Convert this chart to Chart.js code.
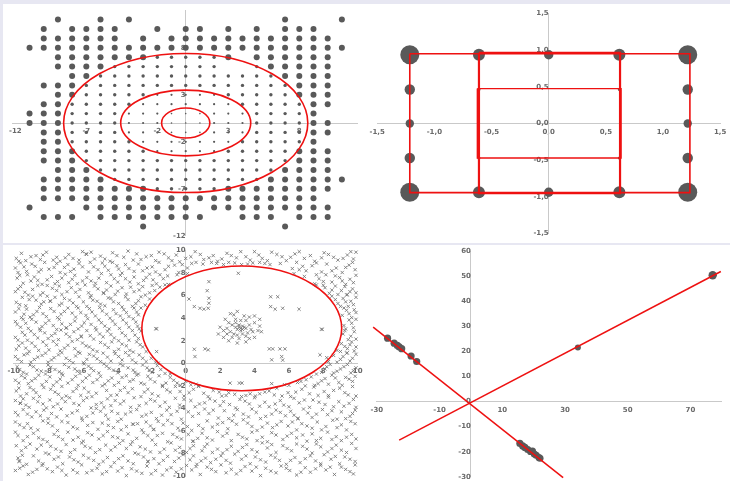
<!DOCTYPE html>
<html><head><meta charset="utf-8">
<script src="https://cdn.jsdelivr.net/npm/chart.js@4/dist/chart.umd.min.js"></script>
<style>
html,body{margin:0;padding:0;background:#e7e7f2;}
#wrap{position:relative;width:730px;height:481px;overflow:hidden;background:#e7e7f2;}
.band{position:absolute;background:#fff;}
canvas{position:absolute;}
</style></head><body>
<div id="wrap">
  <div class="band" style="left:3px;top:4px;width:727px;height:239px"></div>
  <div class="band" style="left:3px;top:245px;width:727px;height:236px"></div>
  <canvas id="c1" width="362" height="239" style="left:3px;top:4px"></canvas>
  <canvas id="c2" width="365" height="239" style="left:365px;top:4px"></canvas>
  <canvas id="c3" width="362" height="236" style="left:3px;top:245px"></canvas>
  <canvas id="c4" width="365" height="236" style="left:365px;top:245px"></canvas>
</div>
<script>
// ---------- panel 1: integer grid of dots, sized by ring ----------
const gridXs = [-11,-10,-9,-8,-7,-6,-5,-4,-3,-2,-1,0,1,2,3,4,5,6,7,8,9,10,11];
const gridYs = [11,10,9,8,7,6,5,4,3,2,1,0,-1,-2,-3,-4,-5,-6,-7,-8,-9,-10,-11];
// one string per row (top to bottom), one char per column: '.' = no dot, 1..4 = size class
const gridRows = [
  "..4..4.4..........4...4",
  ".4.4444..4.44.4.4.444..",
  ".444444.4.444444444444.",
  "44444444444444444444444",
  "..4444444333334.444444.",
  "..444433333333..344444.",
  "...4433333333333334444.",
  ".444333333333333333444.",
  "..44333332222233333444.",
  ".443333322222223333344.",
  "444333322211122233334..",
  "4443333222111222333344.",
  ".443333222111222333344.",
  ".44333332222222333334..",
  ".444333332222233333444.",
  ".444333333333333333444.",
  "..44433333333333334444.",
  ".4444433333333333444444",
  ".444444443333344444444.",
  ".44444444444444444444..",
  "4...44444444.444444444.",
  ".444.44444444..444.444.",
  "........4.........4...."
];
const sizeClassRadius = {"1": 0.8, "2": 1.1, "3": 1.7, "4": 3.0};
const ringCx = [0, 0, 0];
const ringCy = [0, 0, 0];
const ringRx = [1.7, 4.58, 8.6];
const ringRy = [1.6, 3.5, 7.4];
const p1TicksX = [-12, -7, -2, 3, 8];
const p1TicksY = [-12, -7, -2, 3, 8];

// ---------- panel 2: 5x5 frame of bubbles and three rectangles ----------
const frameX = [-1.215,-0.61,0,0.618,1.216, -1.215,1.216, -1.215,1.216, -1.215,1.216, -1.215,-0.61,0,0.618,1.216, -0.61,0.618,-0.61,0.618];
const frameY = [0.937,0.937,0.937,0.937,0.937, 0.463,0.463, 0,0, -0.47,-0.47, -0.937,-0.937,-0.937,-0.937,-0.937, 0.463,0.463,-0.47,-0.47];
const frameR = [9.5,6,4.7,6,9.5, 5.2,5.2, 4.2,4.2, 5.2,5.2, 9.5,6,4.7,6,9.5, 1.5,1.5,1.5,1.5];
const rectOuter = {x: [-1.215, 1.235, 1.235, -1.215, -1.215], y: [0.951, 0.951, -0.943, -0.943, 0.951]};
const rectTall  = {x: [-0.61, 0.624, 0.624, -0.61, -0.61],     y: [0.964, 0.964, -0.951, -0.951, 0.964]};
const rectInner = {x: [-0.624, 0.633, 0.633, -0.624, -0.624],   y: [0.476, 0.476, -0.471, -0.471, 0.476]};
const p2Ticks = [-1.5, -1, -0.5, 0, 0.5, 1, 1.5];

// ---------- panel 3: scattered crosses, sparse inside the ellipse ----------
const fieldPoints = [
  // 9 .. 10
  [-9.85,9.3],[-9.55,9.75],[-9.3,9.1],[-8.7,9.55],[-8.45,9.2],[-8.1,9.85],[-7.5,9.4],[-7.3,9.05],[-6.8,9.65],[-6.55,9.3],
  [-6.0,9.9],[-5.8,9.7],[-5.76,9.66],[-5.3,9.25],[-4.95,9.5],[-4.4,9.05],[-4.25,9.8],[-3.6,9.4],[-3.05,9.15],[-2.85,9.7],
  [-2.3,9.45],[-1.75,9.1],[-1.55,9.85],[-1.0,9.35],[-0.55,9.6],[-0.35,9.0],[0.3,9.45],[0.55,9.9],[1.05,9.2],[1.6,9.55],
  [1.85,9.05],[2.4,9.75],[2.95,9.35],[3.2,9.9],[3.75,9.15],[4.25,9.6],[4.45,9.3],[5.0,9.85],[5.6,9.45],[5.85,9.1],
  [6.35,9.7],[6.9,9.3],[7.25,9.55],[7.5,9.05],[8.05,9.8],[8.6,9.4],[8.85,9.15],[9.4,9.6],[9.75,9.25],[9.9,9.85],
  // 8 .. 9
  [-9.9,8.45],[-9.6,8.9],[-9.25,8.15],[-8.75,8.6],[-8.4,8.3],[-8.2,8.95],[-7.65,8.5],[-7.3,8.05],[-6.85,8.75],[-6.5,8.35],
  [-6.2,8.85],[-5.65,8.1],[-5.35,8.55],[-4.85,8.9],[-4.5,8.25],[-4.0,8.65],[-3.7,8.0],[-3.3,8.4],[-2.75,8.8],[-2.5,8.2],
  [-1.95,8.55],[-1.55,8.95],[-1.2,8.3],[-0.65,8.7],[-0.4,8.05],[0.1,8.45],[0.35,8.85],[1.0,8.8],[1.5,8.95],[2.2,8.75],
  [2.85,8.9],[3.6,8.8],[4.3,8.95],[4.9,8.75],[5.5,8.85],[6.2,8.4],[6.45,8.95],[7.0,8.2],[7.35,8.65],[7.9,8.1],
  [8.2,8.8],[8.75,8.45],[9.1,8.05],[9.5,8.7],[9.85,8.3],
  // 7 .. 8
  [-9.8,7.55],[-9.45,7.1],[-9.2,7.85],[-8.6,7.35],[-8.35,7.0],[-7.8,7.7],[-7.45,7.25],[-7.0,7.9],[-6.6,7.45],[-6.3,7.05],
  [-5.75,7.6],[-5.5,7.3],[-4.9,7.95],[-4.6,7.15],[-4.15,7.5],[-3.8,7.8],[-3.25,7.2],[-3.0,7.65],[-2.45,7.35],[-2.1,7.9],
  [-1.7,7.05],[-1.3,7.5],[-1.05,7.75],[-0.5,7.85],[0.1,7.95],[6.3,7.95],[6.9,7.7],[7.5,7.05],[7.75,7.5],[8.15,7.85],
  [8.5,7.2],[8.95,7.6],[9.3,7.0],[9.55,7.45],[9.9,7.8],
  // 6 .. 7
  [-9.9,6.35],[-9.6,6.8],[-9.15,6.05],[-8.9,6.55],[-8.3,6.25],[-8.05,6.9],[-7.5,6.45],[-7.2,6.1],[-6.65,6.7],[-6.4,6.3],
  [-5.85,6.95],[-5.5,6.0],[-5.1,6.6],[-4.79,6.21],[-4.76,6.24],[-4.35,6.85],[-3.95,6.4],[-3.45,6.15],[-3.2,6.75],[-2.7,6.5],
  [-2.35,6.05],[-1.95,6.9],[-1.8,6.45],[-1.2,6.95],[7.6,6.95],[8.1,6.7],[8.35,6.2],[8.7,6.85],[9.05,6.45],[9.36,6.06],
  [9.39,6.09],[9.7,6.6],[9.9,6.25],
  // 5 .. 6
  [-9.85,5.4],[-9.5,5.85],[-9.3,5.1],[-8.7,5.6],[-8.4,5.25],[-8.05,5.95],[-7.89,5.53],[-7.86,5.5],[-7.35,5.15],[-7.05,5.75],
  [-6.55,5.35],[-6.2,5.9],[-5.75,5.05],[-5.4,5.6],[-4.95,5.25],[-4.5,5.8],[-4.2,5.45],[-3.7,5.0],[-3.35,5.65],[-2.9,5.3],
  [-2.6,5.9],[-2.35,5.15],[-2.1,5.7],[8.5,5.95],[8.85,5.3],[9.15,5.75],[9.45,5.05],[9.6,5.5],[9.9,5.85],
  // 4 .. 5
  [-9.9,4.55],[-9.55,4.05],[-9.25,4.8],[-8.85,4.3],[-8.5,4.95],[-8.1,4.15],[-7.65,4.6],[-7.25,4.35],[-6.85,4.9],[-6.4,4.1],
  [-6.1,4.5],[-5.6,4.85],[-5.25,4.2],[-4.85,4.65],[-4.4,4.0],[-4.05,4.4],[-3.6,4.75],[-3.3,4.15],[-2.85,4.55],[-2.6,4.9],
  [9.1,4.25],[9.35,4.7],[9.65,4.05],[9.9,4.5],
  // 3 .. 4
  [-9.8,3.45],[-9.45,3.9],[-9.15,3.1],[-8.7,3.65],[-8.35,3.25],[-7.95,3.8],[-7.5,3.0],[-7.2,3.5],[-6.96,3.12],[-6.93,3.15],
  [-6.45,3.75],[-6.05,3.3],[-5.7,3.95],[-5.25,3.15],[-4.9,3.6],[-4.45,3.05],[-4.1,3.45],[-3.65,3.85],[-3.3,3.2],[-2.9,3.65],
  [-2.7,3.05],[9.2,3.35],[9.5,3.85],[9.75,3.15],
  // 2 .. 3
  [-9.9,2.3],[-9.5,2.75],[-9.2,2.05],[-8.8,2.55],[-8.45,2.9],[-8.0,2.2],[-7.6,2.65],[-7.25,2.95],[-6.75,2.35],[-6.09,2.37],
  [-6.06,2.4],[-5.75,2.9],[-5.35,2.15],[-5.0,2.6],[-4.55,2.85],[-4.15,2.25],[-3.7,2.7],[-3.3,2.05],[-2.95,2.5],[-2.6,2.85],
  [9.15,2.6],[9.45,2.1],[9.8,2.8],
  // 1 .. 2
  [-9.85,1.25],[-9.5,1.8],[-9.1,1.05],[-8.75,1.5],[-8.3,1.9],[-7.95,1.2],[-7.5,1.65],[-7.05,1.35],[-6.6,1.95],[-6.25,1.0],
  [-5.8,1.55],[-5.4,1.2],[-4.95,1.85],[-4.5,1.4],[-4.15,1.05],[-3.7,1.7],[-3.25,1.15],[-2.85,1.9],[-2.5,1.45],[-2.3,1.05],
  [8.8,1.15],[9.05,1.75],[9.4,1.3],[9.65,1.9],[9.9,1.45],
  // 0 .. 1
  [-9.9,0.6],[-9.55,0.15],[-9.2,0.85],[-8.8,0.35],[-8.35,0.7],[-8.0,0.1],[-7.65,0.5],[-7.2,0.95],[-6.75,0.25],[-6.4,0.65],
  [-5.95,0.05],[-5.6,0.8],[-5.15,0.4],[-4.8,0.9],[-4.35,0.2],[-3.9,0.6],[-3.5,0.95],[-3.1,0.3],[-2.7,0.75],[-2.3,0.15],
  [-2.0,0.45],[-1.75,0.1],[8.3,0.15],[8.6,0.7],[9.0,0.35],[9.36,0.9],[9.39,0.93],[9.7,0.45],
  // -1 .. 0
  [-9.8,-0.3],[-9.45,-0.8],[-9.05,-0.15],[-8.65,-0.6],[-8.15,-0.95],[-7.85,-0.35],[-7.35,-0.75],[-7.05,-0.1],[-6.45,-0.5],[-6.15,-0.9],
  [-5.65,-0.25],[-5.35,-0.65],[-4.75,-0.05],[-4.45,-0.45],[-3.95,-0.85],[-3.65,-0.2],[-3.05,-0.6],[-2.75,-0.95],[-2.25,-0.4],[-1.95,-0.8],
  [-1.65,-0.2],[-1.2,-0.9],[7.6,-0.95],[8.1,-0.5],[8.4,-0.1],[8.8,-0.7],[9.2,-0.3],[9.6,-0.85],[9.9,-0.4],
  // -2 .. -1
  [-9.9,-1.5],[-9.55,-1.1],[-9.15,-1.8],[-8.75,-1.35],[-8.35,-1.9],[-7.9,-1.2],[-7.5,-1.65],[-7.15,-1.05],[-6.6,-1.45],[-6.25,-1.95],
  [-5.8,-1.3],[-5.4,-1.7],[-4.95,-1.15],[-4.5,-1.55],[-4.15,-1.95],[-3.7,-1.25],[-3.25,-1.6],[-2.85,-1.05],[-2.4,-1.85],[-2.05,-1.4],
  [-1.55,-1.1],[-1.15,-1.75],[-0.7,-1.5],[-0.3,-1.95],[0.3,-1.9],[0.75,-1.98],[6.0,-1.95],[6.7,-1.6],[7.3,-1.2],[7.7,-1.8],
  [8.1,-1.35],[8.5,-1.05],[8.9,-1.7],[9.3,-1.25],[9.7,-1.6],
  // -3 .. -2
  [-9.85,-2.45],[-9.6,-2.9],[-9.05,-2.15],[-8.7,-2.6],[-8.5,-2.95],[-7.85,-2.3],[-7.4,-2.75],[-7.2,-2.05],[-6.55,-2.5],[-6.1,-2.85],
  [-5.9,-2.2],[-5.2,-2.65],[-4.85,-2.0],[-4.6,-2.4],[-4.0,-2.8],[-3.55,-2.15],[-3.35,-2.6],[-2.6,-2.95],[-2.2,-2.3],[-1.95,-2.7],
  [-1.35,-2.05],[-0.9,-2.55],[-0.33,-2.5],[-0.1,-2.9],[0.45,-2.3],[1.05,-2.65],[1.3,-2.95],[1.95,-2.55],[2.35,-2.85],[2.5,-2.6],
  [3.25,-2.95],[3.75,-2.7],[4.05,-2.9],[4.6,-2.55],[5.15,-2.8],[5.3,-2.2],[5.95,-2.6],[6.1,-2.95],[6.75,-2.3],[7.2,-2.7],
  [7.45,-2.1],[8.05,-2.5],[8.3,-2.85],[8.95,-2.2],[9.25,-2.6],[9.7,-2.05],[9.9,-2.9],
  // -4 .. -3
  [-9.9,-3.3],[-9.63,-3.52],[-9.6,-3.55],[-9.1,-3.9],[-8.85,-3.1],[-8.3,-3.6],[-7.9,-3.25],[-7.7,-3.85],[-7.0,-3.4],[-6.75,-3.05],
  [-6.2,-3.7],[-5.95,-3.3],[-5.5,-3.95],[-4.9,-3.5],[-4.55,-3.15],[-4.35,-3.75],[-3.6,-3.35],[-3.2,-3.9],[-3.0,-3.05],[-2.3,-3.55],
  [-2.05,-3.2],[-1.5,-3.8],[-1.2,-3.45],[-0.6,-3.1],[-0.35,-3.7],[0.3,-3.3],[0.55,-3.85],[1.1,-3.5],[1.4,-3.15],[2.0,-3.75],
  [2.2,-3.4],[2.9,-3.95],[3.15,-3.2],[3.7,-3.6],[4.0,-3.05],[4.6,-3.45],[4.85,-3.85],[5.5,-3.3],[5.7,-3.7],[6.3,-3.1],
  [6.6,-3.5],[7.2,-3.9],[7.4,-3.25],[8.1,-3.65],[8.3,-3.0],[8.9,-3.4],[9.2,-3.8],[9.75,-3.2],
  // -5 .. -4
  [-9.75,-4.6],[-9.45,-4.1],[-8.95,-4.75],[-8.7,-4.3],[-8.0,-4.9],[-7.8,-4.45],[-7.25,-4.05],[-6.9,-4.65],[-6.3,-4.2],[-6.05,-4.85],
  [-5.4,-4.4],[-5.2,-4.0],[-4.65,-4.6],[-4.3,-4.25],[-3.75,-4.95],[-3.5,-4.5],[-2.85,-4.1],[-2.55,-4.7],[-2.0,-4.35],[-1.7,-4.9],
  [-1.1,-4.15],[-0.85,-4.55],[-0.25,-4.95],[0.15,-4.3],[0.4,-4.7],[1.1,-4.05],[1.35,-4.45],[1.9,-4.85],[2.25,-4.2],[2.8,-4.6],
  [3.0,-4.1],[3.65,-4.75],[4.1,-4.35],[4.35,-4.9],[5.0,-4.5],[5.25,-4.15],[5.8,-4.65],[6.1,-4.25],[6.51,-4.91],[6.54,-4.88],
  [7.1,-4.4],[7.35,-4.8],[7.95,-4.1],[8.25,-4.55],[8.8,-4.95],[9.05,-4.3],[9.55,-4.7],[9.85,-4.15],
  // -6 .. -5
  [-9.9,-5.2],[-9.4,-5.7],[-9.2,-5.35],[-8.6,-5.9],[-8.3,-5.1],[-7.75,-5.55],[-7.45,-5.95],[-6.85,-5.25],[-6.55,-5.65],[-6.0,-5.05],
  [-5.7,-5.5],[-5.1,-5.85],[-4.85,-5.3],[-4.2,-5.7],[-3.95,-5.15],[-3.45,-5.6],[-3.08,-5.38],[-3.05,-5.41],[-2.55,-5.9],[-2.3,-5.2],
  [-1.88,-5.88],[-1.85,-5.85],[-1.3,-5.45],[-1.05,-5.05],[-0.45,-5.75],[-0.15,-5.3],[0.35,-5.95],[0.75,-5.5],[1.25,-5.1],[1.55,-5.65],
  [2.15,-5.25],[2.45,-5.8],[2.95,-5.4],[3.35,-5.0],[3.85,-5.6],[4.15,-5.95],[4.75,-5.3],[5.05,-5.7],[5.55,-5.15],[5.95,-5.55],
  [6.45,-5.9],[6.75,-5.35],[7.35,-5.75],[7.65,-5.2],[8.15,-5.6],[8.55,-5.05],[9.05,-5.45],[9.35,-5.9],[9.85,-5.35],
  // -7 .. -6
  [-9.75,-6.4],[-9.45,-6.85],[-8.85,-6.2],[-8.55,-6.6],[-8.05,-6.95],[-7.65,-6.3],[-7.15,-6.75],[-6.85,-6.1],[-6.25,-6.55],[-5.95,-6.9],
  [-5.45,-6.35],[-5.05,-6.7],[-4.55,-6.05],[-4.25,-6.5],[-3.65,-6.85],[-3.35,-6.25],[-2.85,-6.65],[-2.45,-6.15],[-1.95,-6.8],[-1.65,-6.4],
  [-1.05,-6.95],[-0.75,-6.3],[-0.25,-6.7],[0.41,-6.92],[0.44,-6.89],[0.95,-6.2],[1.25,-6.6],[1.85,-6.05],[2.15,-6.45],[2.65,-6.85],
  [3.05,-6.3],[3.55,-6.7],[3.85,-6.1],[4.45,-6.55],[4.75,-6.95],[5.25,-6.35],[5.65,-6.75],[6.15,-6.2],[6.45,-6.6],[7.05,-6.9],
  [7.35,-6.25],[7.85,-6.65],[8.25,-6.1],[8.75,-6.5],[9.05,-6.85],[9.65,-6.3],[9.9,-6.7],
  // -8 .. -7
  [-9.85,-7.3],[-9.55,-7.75],[-9.05,-7.15],[-8.65,-7.6],[-8.15,-7.95],[-7.85,-7.35],[-7.25,-7.8],[-6.95,-7.2],[-6.45,-7.65],[-6.05,-7.05],
  [-5.55,-7.5],[-5.25,-7.9],[-4.65,-7.25],[-4.35,-7.7],[-3.85,-7.1],[-3.45,-7.55],[-2.95,-7.95],[-2.65,-7.4],[-2.05,-7.85],[-1.75,-7.2],
  [-1.25,-7.6],[-0.85,-7.05],[-0.35,-7.45],[0.05,-7.9],[0.45,-7.3],[0.95,-7.75],[1.25,-7.15],[1.85,-7.6],[2.15,-7.95],[2.65,-7.35],
  [3.05,-7.8],[3.55,-7.2],[3.85,-7.65],[4.45,-7.05],[4.75,-7.5],[5.25,-7.9],[5.65,-7.3],[6.15,-7.75],[6.45,-7.15],[7.05,-7.6],
  [7.35,-7.95],[7.85,-7.4],[8.25,-7.85],[8.75,-7.25],[9.05,-7.7],[9.65,-7.1],[9.9,-7.55],
  // -9 .. -8
  [-9.75,-8.4],[-9.69,-8.69],[-9.66,-8.66],[-9.25,-8.95],[-8.85,-8.2],[-8.55,-8.65],[-7.95,-8.05],[-7.65,-8.5],[-7.15,-8.9],[-6.75,-8.3],
  [-6.25,-8.75],[-5.95,-8.15],[-5.35,-8.6],[-5.05,-8.95],[-4.55,-8.35],[-4.15,-8.8],[-3.65,-8.2],[-3.35,-8.65],[-2.75,-8.05],[-2.21,-8.69],
  [-2.18,-8.72],[-1.85,-8.45],[-1.55,-8.9],[-1.05,-8.25],[-0.65,-8.7],[-0.15,-8.1],[0.25,-8.55],[0.65,-8.95],[1.15,-8.4],[1.45,-8.8],
  [2.05,-8.2],[2.35,-8.6],[2.85,-8.05],[3.25,-8.5],[3.75,-8.9],[4.05,-8.3],[4.65,-8.75],[4.95,-8.15],[5.45,-8.6],[5.85,-8.95],
  [6.35,-8.35],[6.65,-8.8],[7.25,-8.2],[7.55,-8.65],[8.05,-8.1],[8.45,-8.5],[8.95,-8.9],[9.25,-8.3],[9.85,-8.7],
  // -10 .. -9
  [-9.9,-9.5],[-9.45,-9.1],[-9.15,-9.85],[-8.65,-9.4],[-8.35,-9.05],[-7.75,-9.6],[-7.45,-9.2],[-6.95,-9.9],[-6.55,-9.45],[-6.05,-9.0],
  [-5.75,-9.7],[-5.15,-9.3],[-4.85,-9.8],[-4.35,-9.15],[-3.95,-9.55],[-3.45,-9.95],[-3.15,-9.35],[-2.55,-9.75],[-2.25,-9.1],[-1.75,-9.5],
  [-1.35,-9.9],[-0.85,-9.25],[-0.55,-9.65],[0.05,-9.05],[0.35,-9.45],[0.85,-9.85],[1.25,-9.2],[1.75,-9.6],[2.05,-9.0],[2.65,-9.4],
  [2.95,-9.8],[3.45,-9.15],[3.85,-9.55],[4.35,-9.95],[4.65,-9.3],[5.25,-9.7],[5.55,-9.1],[6.05,-9.5],[6.45,-9.9],[6.95,-9.25],
  [7.25,-9.65],[7.85,-9.05],[8.15,-9.45],[8.65,-9.85],[9.05,-9.2],[9.55,-9.6],[9.85,-9.0]
];
// second pass over the same field, filling the gaps between the crosses above
const fieldPointsFill = [
  [-9.7,9.05],[-9.0,9.45],[-8.3,9.6],[-7.7,9.15],[-7.0,9.35],[-6.2,9.15],[-5.5,9.85],[-4.7,9.25],[-4.0,9.55],[-3.35,9.95],
  [-2.6,9.2],[-2.0,9.55],[-1.25,9.7],[-0.8,9.1],[0.0,9.3],[0.85,9.65],[1.35,9.35],[2.1,9.25],[2.65,9.55],[3.5,9.45],
  [4.0,9.9],[4.75,9.1],[5.3,9.65],[6.1,9.4],[6.6,9.9],[7.9,9.35],[8.3,9.65],[9.15,9.3],[9.6,9.9],
  [-9.75,8.05],[-9.4,8.55],[-8.95,8.8],[-8.55,8.1],[-7.95,8.35],[-7.5,8.85],[-7.05,8.5],[-6.7,8.15],[-6.0,8.55],[-5.55,8.95],
  [-5.1,8.3],[-4.7,8.6],[-4.25,8.95],[-3.9,8.35],[-3.5,8.75],[-3.0,8.15],[-2.25,8.45],[-1.75,8.1],[-1.0,8.6],[-0.2,8.75],
  [0.6,8.95],[1.8,8.85],[2.5,8.95],[3.25,8.75],[3.9,8.9],[4.6,8.85],[6.6,8.3],[6.8,8.6],[7.6,8.9],[8.5,8.2],[9.3,8.5],[9.7,8.95],
  [-9.65,7.8],[-9.0,7.3],[-8.8,7.65],[-8.05,7.4],[-7.6,7.05],[-7.2,7.55],[-6.8,7.15],[-6.45,7.8],[-6.0,7.3],[-5.25,7.1],
  [-5.05,7.55],[-4.35,7.85],[-3.95,7.2],[-3.5,7.5],[-2.75,7.05],[-2.3,7.6],[-1.9,7.4],[-1.5,7.85],[7.6,7.85],[8.0,7.25],
  [8.7,7.75],[9.1,7.3],[9.75,7.15],
  [-9.75,6.6],[-9.35,6.3],[-8.6,6.9],[-8.45,6.05],[-7.75,6.65],[-7.35,6.85],[-6.9,6.35],[-6.15,6.55],[-5.65,6.25],[-5.3,6.85],
  [-4.6,6.5],[-4.1,6.1],[-3.7,6.7],[-3.0,6.35],[-2.5,6.8],[-2.1,6.25],[-1.5,6.75],[-1.0,6.99],[8.0,6.92],[8.5,6.5],
  [8.85,6.1],[9.25,6.8],[9.55,6.35],
  [-9.65,5.2],[-9.1,5.65],[-8.9,5.95],[-8.25,5.45],[-7.6,5.85],[-7.2,5.3],[-6.75,5.6],[-6.35,5.05],[-5.95,5.45],[-5.55,5.85],
  [-5.15,5.5],[-4.7,5.1],[-4.35,5.75],[-3.9,5.3],[-3.5,5.9],[-3.1,5.05],[-2.75,5.55],[8.7,5.65],[9.0,5.05],[9.3,5.45],[9.75,5.2],
  [-9.7,4.85],[-9.4,4.35],[-9.05,4.1],[-8.65,4.6],[-8.3,4.4],[-7.85,4.85],[-7.45,4.05],[-7.05,4.6],[-6.6,4.45],[-6.25,4.9],
  [-5.8,4.25],[-5.45,4.55],[-5.0,4.95],[-4.6,4.35],[-4.2,4.75],[-3.8,4.2],[-3.45,4.5],[-3.0,4.9],[-2.75,4.3],[9.2,4.9],
  [9.5,4.4],[9.8,4.75],
  [-9.9,3.7],[-9.6,3.2],[-9.3,3.55],[-8.95,3.9],[-8.5,3.05],[-8.15,3.55],[-7.7,3.35],[-7.35,3.9],[-6.7,3.45],[-6.25,3.05],
  [-5.9,3.6],[-5.5,3.45],[-5.05,3.85],[-4.7,3.3],[-4.25,3.75],[-3.85,3.1],[-3.45,3.55],[-3.05,3.95],[-2.8,3.3],[9.3,3.05],
  [9.65,3.55],[9.9,3.9],
  [-9.75,2.05],[-9.35,2.5],[-9.0,2.85],[-8.6,2.25],[-8.2,2.7],[-7.8,2.45],[-7.4,2.1],[-6.95,2.6],[-6.5,2.8],[-6.3,2.1],
  [-5.55,2.45],[-5.2,2.95],[-4.8,2.35],[-4.35,2.55],[-3.9,2.0],[-3.5,2.45],[-3.1,2.9],[-2.75,2.2],[9.25,2.9],[9.6,2.4],[9.9,2.15],
  [-9.7,1.55],[-9.3,1.35],[-8.95,1.8],[-8.55,1.15],[-8.1,1.6],[-7.7,1.95],[-7.3,1.1],[-6.85,1.6],[-6.45,1.3],[-6.0,1.8],
  [-5.6,1.45],[-5.15,1.05],[-4.7,1.65],[-4.3,1.9],[-3.9,1.25],[-3.45,1.55],[-3.05,1.0],[-2.65,1.65],[9.0,1.05],[9.25,1.5],
  [9.55,1.65],[9.8,1.1],
  [-9.75,0.35],[-9.4,0.75],[-9.0,0.1],[-8.6,0.55],[-8.15,0.9],[-7.8,0.3],[-7.4,0.75],[-6.95,0.45],[-6.55,0.05],[-6.15,0.9],
  [-5.75,0.35],[-5.35,0.65],[-4.95,0.15],[-4.55,0.55],[-4.1,0.85],[-3.7,0.3],[-3.3,0.7],[-2.9,0.05],[-2.5,0.45],[-1.6,0.02],
  [8.2,0.5],[8.8,0.1],[9.15,0.6],[9.55,0.2],[9.9,0.8],
  [-9.65,-0.55],[-9.25,-0.95],[-8.85,-0.3],[-8.4,-0.7],[-8.0,-0.15],[-7.6,-0.55],[-7.2,-0.9],[-6.8,-0.35],[-6.3,-0.7],[-5.9,-0.05],
  [-5.5,-0.45],[-5.05,-0.85],[-4.6,-0.25],[-4.2,-0.6],[-3.8,-0.05],[-3.35,-0.4],[-2.95,-0.8],[-2.5,-0.15],[-2.1,-0.6],[-1.45,-0.55],
  [-0.9,-0.95],[7.9,-0.8],[8.2,-0.3],[8.6,-0.85],[9.0,-0.5],[9.4,-0.1],[9.75,-0.65],
  [-9.7,-1.75],[-9.35,-1.3],[-8.95,-1.55],[-8.55,-1.05],[-8.1,-1.6],[-7.7,-1.95],[-7.3,-1.4],[-6.85,-1.75],[-6.4,-1.15],[-6.0,-1.6],
  [-5.6,-1.05],[-5.15,-1.45],[-4.7,-1.85],[-4.3,-1.3],[-3.9,-1.7],[-3.45,-1.1],[-3.05,-1.45],[-2.6,-1.75],[-2.2,-1.15],[-1.8,-1.65],
  [-1.35,-1.95],[-0.9,-1.25],[-0.5,-1.75],[0.0,-1.6],[0.6,-1.85],[5.75,-1.9],[6.5,-1.7],[7.0,-1.45],[7.5,-1.95],[7.9,-1.55],
  [8.3,-1.85],[8.7,-1.3],[9.1,-1.95],[9.5,-1.4],[9.85,-1.15],
  [-9.7,-2.2],[-9.25,-2.7],[-8.85,-2.35],[-8.25,-2.15],[-7.6,-2.55],[-6.95,-2.9],[-6.35,-2.25],[-5.65,-2.55],[-5.45,-2.95],[-4.35,-2.85],
  [-3.8,-2.4],[-3.1,-2.25],[-2.4,-2.55],[-1.6,-2.9],[-1.1,-2.35],[-0.6,-2.05],[0.2,-2.6],[0.75,-2.05],[1.6,-2.4],[2.1,-2.9],
  [2.85,-2.75],[3.5,-2.85],[4.3,-2.7],[4.85,-2.45],[5.6,-2.9],[6.4,-2.55],[6.95,-2.0],[7.7,-2.85],[8.6,-2.4],[9.45,-2.8],
  [-9.45,-3.15],[-9.3,-3.7],[-8.6,-3.4],[-8.1,-3.95],[-7.45,-3.6],[-7.2,-3.1],[-6.5,-3.55],[-5.75,-3.05],[-5.2,-3.65],[-4.75,-3.9],
  [-4.1,-3.3],[-3.8,-3.6],[-2.7,-3.75],[-1.8,-3.35],[-0.95,-3.9],[-0.1,-3.2],[0.8,-3.6],[1.7,-3.35],[2.55,-3.65],[3.45,-3.35],
  [4.3,-3.8],[5.2,-3.6],[6.0,-3.85],[6.9,-3.25],[7.75,-3.45],[8.6,-3.85],[9.5,-3.55],[9.9,-3.9],
  [-9.9,-4.35],[-9.2,-4.5],[-8.45,-4.65],[-8.25,-4.15],[-7.5,-4.75],[-6.6,-4.4],[-5.75,-4.7],[-4.95,-4.25],[-4.5,-4.95],[-3.95,-4.45],
  [-3.2,-4.3],[-2.3,-4.55],[-1.4,-4.6],[-0.5,-4.25],[0.75,-4.45],[1.6,-4.15],[2.5,-4.9],[3.35,-4.5],[3.85,-4.05],[4.65,-4.7],
  [5.5,-4.35],[6.3,-4.6],[6.85,-4.05],[7.6,-4.5],[8.5,-4.2],[9.3,-4.9],[9.7,-4.45],
  [-9.65,-5.45],[-9.0,-5.75],[-8.0,-5.3],[-7.2,-5.15],[-6.3,-5.8],[-5.4,-5.25],[-4.5,-5.5],[-3.75,-5.9],[-2.8,-5.35],[-2.05,-5.55],
  [-1.6,-5.15],[-0.8,-5.35],[0.1,-5.6],[1.0,-5.8],[1.85,-5.4],[2.7,-5.1],[3.6,-5.3],[4.45,-5.65],[5.3,-5.45],[6.2,-5.2],
  [7.05,-5.55],[7.9,-5.9],[8.8,-5.7],[9.6,-5.15],
  [-9.9,-6.1],[-9.2,-6.5],[-8.3,-6.75],[-7.4,-6.5],[-6.55,-6.8],[-5.7,-6.15],[-4.8,-6.4],[-3.95,-6.6],[-3.1,-6.95],[-2.2,-6.4],
  [-1.35,-6.2],[-0.5,-6.55],[0.15,-6.3],[0.7,-6.65],[1.55,-6.8],[2.4,-6.2],[3.3,-6.55],[4.15,-6.85],[5.0,-6.15],[5.9,-6.45],
  [6.8,-6.35],[7.6,-6.85],[8.5,-6.75],[9.35,-6.55],
  [-9.3,-7.45],[-8.4,-7.25],[-7.55,-7.6],[-6.7,-7.9],[-5.85,-7.35],[-5.0,-7.65],[-4.1,-7.4],[-3.2,-7.2],[-2.35,-7.6],[-1.5,-7.9],
  [-0.6,-7.7],[0.25,-7.55],[1.1,-7.4],[1.55,-7.9],[2.4,-7.65],[3.3,-7.45],[4.15,-7.85],[5.0,-7.2],[5.9,-7.55],[6.8,-7.35],
  [7.6,-7.15],[8.5,-7.55],[9.35,-7.9],
  [-9.5,-8.15],[-8.3,-8.9],[-7.4,-8.3],[-6.5,-8.55],[-5.65,-8.4],[-4.8,-8.7],[-3.9,-8.45],[-3.05,-8.9],[-2.45,-8.3],[-1.3,-8.6],
  [-0.4,-8.4],[0.45,-8.2],[0.9,-8.65],[1.75,-8.5],[2.6,-8.85],[3.5,-8.2],[4.35,-8.55],[5.2,-8.35],[6.1,-8.6],[6.95,-8.45],
  [7.85,-8.9],[8.7,-8.25],[9.55,-8.5],
  [-9.65,-9.3],[-8.9,-9.65],[-8.05,-9.35],[-7.2,-9.5],[-6.3,-9.7],[-5.45,-9.5],[-4.6,-9.6],[-3.7,-9.25],[-2.85,-9.55],[-2.0,-9.8],
  [-1.1,-9.45],[-0.25,-9.35],[0.6,-9.15],[1.5,-9.4],[2.35,-9.7],[3.2,-9.5],[4.1,-9.2],[4.95,-9.55],[5.85,-9.3],[6.7,-9.65],
  [7.55,-9.35],[8.4,-9.2],[9.3,-9.4],[9.75,-9.8]
];
const zonePoints = [
  [-1.73,3.08],[-1.70,3.05],[7.9,3.03],[7.93,3.0],[-1.69,1.04],[0.19,5.7],[0.5,5.03],[0.83,4.88],[1.31,4.88],[1.06,4.8],
  [1.25,6.44],[1.35,7.24],[1.35,5.77],[1.35,5.33],[3.06,7.98],[4.94,5.9],[5.35,5.9],[4.94,5.03],[5.2,4.8],[5.64,4.88],
  [6.59,4.8],[0.5,1.25],[0.54,0.6],[1.12,1.28],[1.31,1.19],[4.86,1.28],[5.06,1.28],[5.48,1.28],[5.77,1.28],[5.0,0.31],
  [5.58,0.6],[5.64,0.28],[7.81,0.75],[2.58,-1.75],[3.12,-1.75],[3.27,-1.75],[5.0,-1.8],
  [3.2,3.1],[3.1,3.2],[3.3,3.0],[3.0,3.0],[3.4,3.2],[3.2,2.9],[3.1,3.4],[3.3,3.3],[2.9,3.2],[3.5,3.1],
  [2.7,3.4],[2.5,3.6],[2.3,3.9],[2.6,2.8],[2.4,2.6],[2.2,2.9],[2.8,2.6],[2.7,2.3],[3.0,2.5],[3.1,2.2],
  [3.3,2.6],[3.6,2.7],[3.9,2.8],[4.2,2.9],[4.4,2.8],[3.7,3.4],[4.0,3.6],[4.3,3.3],[4.3,3.9],[3.5,3.8],
  [3.4,4.2],[3.2,3.8],[2.9,3.9],[2.8,4.3],[2.6,4.4],[3.7,4.1],[4.0,4.2],[2.0,3.2],[1.9,2.6],[2.2,2.3],
  [2.5,2.0],[3.0,1.8],[3.7,2.2],[4.0,2.3],[3.5,1.9],[2.9,3.6],[3.5,2.4],[3.8,3.0],[2.4,3.1],[3.0,4.6]
];
const zoneCx = 3.26, zoneCy = 3.1, zoneRx = 5.81, zoneRy = 5.53;
const p3Ticks = [-10, -8, -6, -4, -2, 0, 2, 4, 6, 8, 10];

// ---------- panel 4: two fitted lines and their points ----------
const lineA = {x: [-31.2, 29.4], y: [29.7, -30.3]};
const lineB = {x: [-22.9, 79.7], y: [-15.4, 51.9]};
const obsX = [-26.6,-24.5,-23.5,-22.9,-22.1,-19.1,-17.3, 34.1, 77.1,
              15.6,16.5,17.2,18.1,19.0,19.6,20.2,20.8,21.7,22.0];
const obsY = [25.3,23.3,22.4,21.8,21.1,18.2,16.0, 21.6, 50.4,
              -16.7,-17.7,-18.3,-19.1,-19.9,-19.7,-20.9,-21.4,-22.3,-22.6];
const obsR = [3.6,3.6,3.6,3.6,3.6,3.6,3.6, 3, 4.2,
              3.6,3.6,3.6,3.6,3.6,3.6,3.6,3.6,3.6,3.6];
const p4TicksX = [-30, -10, 10, 30, 50, 70];
const p4TicksY = [-30, -20, -10, 0, 10, 20, 30, 40, 50, 60];

// ---------- shared styling ----------
const DOT = '#595959';
const RED = '#ee1111';
const AXIS = '#c9c9c9';
const TICK_FONT = {family: 'DejaVu Sans', size: 7, weight: 'bold'};
const TICK_COLOR = '#6a6a6a';

function zeroPadding(scale) {
  scale.paddingLeft = scale.paddingRight = scale.paddingTop = scale.paddingBottom = 0;
}
function axis(id, min, max, tickValues, fmt) {
  const other = id === 'x' ? 'y' : 'x';
  return {
    type: 'linear', min, max,
    position: {[other]: 0},
    grid: {display: false, drawTicks: false},
    border: {display: true, color: AXIS, width: 1},
    ticks: {
      font: TICK_FONT, color: TICK_COLOR, padding: 4, autoSkip: false, maxRotation: 0,
      callback: v => fmt(v)
    },
    afterBuildTicks: s => { s.ticks = tickValues.map(v => ({value: v})); },
    afterFit: zeroPadding
  };
}
const plain = v => String(v);
const comma = v => v.toFixed(1).replace('.', ',');

const ellipsePlugin = {
  id: 'ellipses',
  afterDatasetsDraw(chart, args, opts) {
    const {ctx} = chart;
    const sx = chart.scales.x, sy = chart.scales.y;
    (opts.items || []).forEach(e => {
      const cx = sx.getPixelForValue(e.cx), cy = sy.getPixelForValue(e.cy);
      const rx = Math.abs(sx.getPixelForValue(e.cx + e.rx) - cx);
      const ry = Math.abs(sy.getPixelForValue(e.cy + e.ry) - cy);
      ctx.save();
      ctx.beginPath();
      ctx.ellipse(cx, cy, rx, ry, 0, 0, Math.PI * 2);
      ctx.strokeStyle = opts.color;
      ctx.lineWidth = opts.width;
      ctx.stroke();
      ctx.restore();
    });
  }
};

function baseOptions(pad, xs, ys, ellipses) {
  return {
    responsive: false,
    animation: false,
    layout: {padding: pad},
    scales: {x: xs, y: ys},
    plugins: {
      legend: {display: false},
      tooltip: {enabled: false},
      ellipses: {items: ellipses || [], color: RED, width: 1.6}
    },
    events: []
  };
}
function lineSet(pts, width) {
  return {
    type: 'scatter', showLine: true, order: 0, clip: false,
    data: pts.x.map((v, i) => ({x: v, y: pts.y[i]})),
    borderColor: RED, borderWidth: width, pointRadius: 0, fill: false, tension: 0
  };
}

// panel 1
const gridDots = [];
gridRows.forEach((row, r) => {
  [...row].forEach((ch, c) => {
    if (ch !== '.') gridDots.push({x: gridXs[c], y: gridYs[r], r: sizeClassRadius[ch]});
  });
});
new Chart(document.getElementById('c1'), {
  type: 'bubble',
  data: {datasets: [{data: gridDots, backgroundColor: DOT, borderWidth: 0, clip: false}]},
  options: baseOptions({left: 9.5, right: 7.5, top: 6.2, bottom: 7.2},
    axis('x', -12.2, 12.1, p1TicksX, plain), axis('y', -12, 12, p1TicksY, plain),
    ringRx.map((rx, i) => ({cx: ringCx[i], cy: ringCy[i], rx, ry: ringRy[i]}))),
  plugins: [ellipsePlugin]
});

// panel 2
new Chart(document.getElementById('c2'), {
  type: 'bubble',
  data: {datasets: [
    lineSet(rectOuter, 1.6), lineSet(rectTall, 2.2), lineSet(rectInner, 1.4),
    {type: 'bubble', order: 1, clip: false, backgroundColor: DOT, borderWidth: 0,
     data: frameX.map((v, i) => ({x: v, y: frameY[i], r: frameR[i]}))}
  ]},
  options: baseOptions({left: 12.2, right: 9.8, top: 6.5, bottom: 7.5},
    axis('x', -1.5, 1.5, p2Ticks, comma), axis('y', -1.5, 1.5, p2Ticks, comma))
});

// panel 3
new Chart(document.getElementById('c3'), {
  type: 'scatter',
  data: {datasets: [{
    data: fieldPoints.concat(fieldPointsFill, zonePoints).map(p => ({x: p[0], y: p[1]})),
    pointStyle: 'crossRot', pointRadius: 2.3, borderColor: '#747474', borderWidth: 0.85,
    backgroundColor: 'transparent', clip: false
  }]},
  options: baseOptions({left: 10.7, right: 7.3, top: 5.5, bottom: 4.5},
    axis('x', -10, 10, p3Ticks, plain), axis('y', -10, 10, p3Ticks, plain),
    [{cx: zoneCx, cy: zoneCy, rx: zoneRx, ry: zoneRy}]),
  plugins: [ellipsePlugin]
});

// panel 4
new Chart(document.getElementById('c4'), {
  type: 'bubble',
  data: {datasets: [
    lineSet(lineA, 1.5), lineSet(lineB, 1.5),
    {type: 'bubble', order: 1, clip: false, backgroundColor: DOT, borderWidth: 0,
     data: obsX.map((v, i) => ({x: v, y: obsY[i], r: obsR[i]}))}
  ]},
  options: baseOptions({left: 11.9, right: 8.2, top: 6.2, bottom: 3.9},
    axis('x', -30, 80, p4TicksX, plain), axis('y', -30, 60, p4TicksY, plain))
});
</script>
</body></html>
